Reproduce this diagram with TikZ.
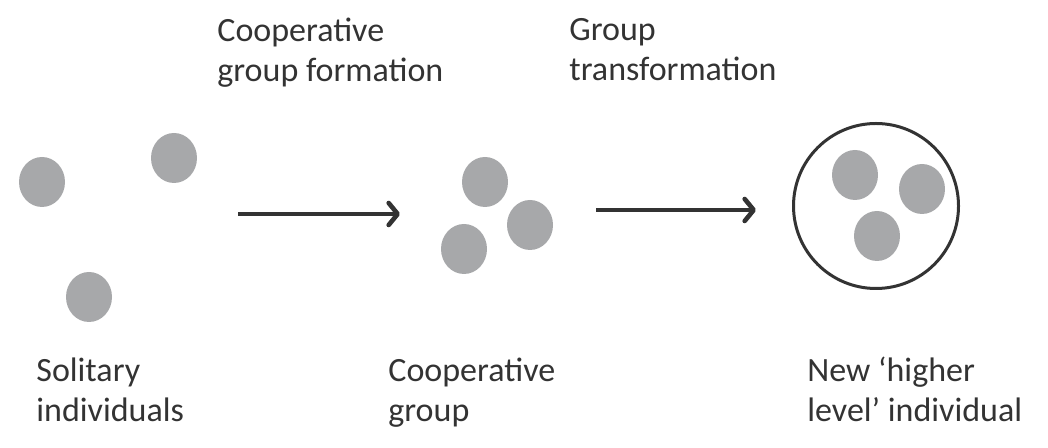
\documentclass[tikz,border=0pt]{standalone}
\usepackage{fontspec}
\setmainfont{Carlito}
\usetikzlibrary{shapes.geometric,arrows.meta}
\definecolor{dotgray}{HTML}{A7A8AA}
\definecolor{inkgray}{HTML}{333333}
\begin{document}
\begin{tikzpicture}[x=0.5pt,y=0.5pt,
  dot/.style={ellipse,fill=dotgray,minimum width=23pt,minimum height=25pt,inner sep=0},
  lbl/.style={align=left,anchor=base west,inner sep=0,text=inkgray,font=\fontsize{17}{20}\selectfont},
  arr/.style={draw=inkgray,line width=2.3pt,-{Straight Barb[length=4.5pt,width=11pt,round]}}]
\useasboundingbox (0,0) rectangle (1048,448);
\node[dot] (s1) at (42,266) {};
\node[dot] (s2) at (174,290) {};
\node[dot] (s3) at (89,151) {};
\node[dot] (c1) at (485,266) {};
\node[dot] (c2) at (530,223) {};
\node[dot] (c3) at (464,199) {};
\node[ellipse,draw=inkgray,line width=1.5pt,minimum size=82.5pt] (org) at (876,242) {};
\node[dot] (n1) at (855,273) {};
\node[dot] (n2) at (922,259) {};
\node[dot] (n3) at (877,212) {};
\coordinate (a1s) at (238,234);
\coordinate (a1e) at (400,234);
\coordinate (a2s) at (596,238);
\coordinate (a2e) at (756,238);
\draw[arr] (a1s)--(a1e);
\draw[arr] (a2s)--(a2e);
\node[lbl] (form) at (217,366) {Cooperative\\group formation};
\node[lbl] (trans) at (569,367) {Group\\transformation};
\node[lbl] (sol) at (36,26) {Solitary\\individuals};
\node[lbl] (grp) at (388,26) {Cooperative\\group};
\node[lbl] (new) at (807,26) {New ‘higher\\level’ individual};
\end{tikzpicture}
\end{document}
